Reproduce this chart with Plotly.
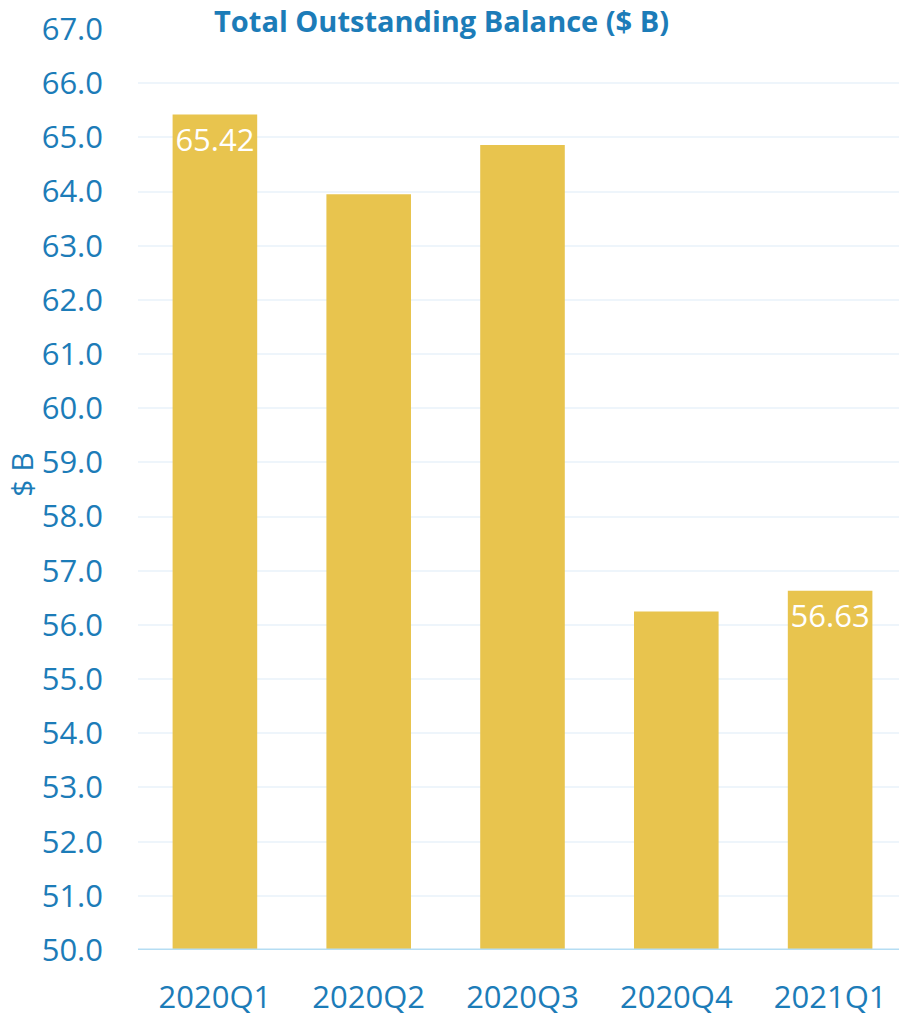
import plotly.graph_objects as go

categories = ["2020Q1", "2020Q2", "2020Q3", "2020Q4", "2021Q1"]
balances = [65.42, 63.95, 64.86, 56.25, 56.63]
labels = ["65.42", "", "", "", "56.63"]
y_ticks = [50 + i for i in range(18)]
y_tick_text = [f"{v:.1f}" for v in y_ticks]

blue = "#1c7cb8"
bar_color = "#e8c44e"

fig = go.Figure(go.Bar(
    x=categories, y=balances, text=labels,
    textposition="inside", insidetextanchor="end", textangle=0,
    constraintext="none",
    textfont=dict(color="white", size=31, family="Open Sans"),
    marker=dict(color=bar_color, line=dict(width=0)),
    cliponaxis=False,
))

fig.update_layout(
    width=907, height=1016,
    margin=dict(l=130, r=8, t=21, b=74, autoexpand=False),
    paper_bgcolor="white", plot_bgcolor="white",
    bargap=0.45,
    showlegend=False,
    font=dict(family="Open Sans", color=blue),
    title=dict(text="<b>Total Outstanding Balance ($ B)</b>",
               x=0.478, xanchor="center", y=0.986, yanchor="middle",
               yref="container",
               font=dict(size=29, color=blue, family="Open Sans")),
    xaxis=dict(tickfont=dict(size=31, color=blue), showgrid=False,
               showline=False, ticks="", ticklabelstandoff=26, automargin=False),
    yaxis=dict(range=[50, 67], tickvals=y_ticks, ticktext=y_tick_text,
               tickfont=dict(size=31, color=blue),
               showgrid=True, gridcolor="#eef5fb", gridwidth=2,
               zeroline=False, showline=False, ticks="",
               ticklabelstandoff=34, ticklabeloverflow="allow", automargin=False),
    annotations=[dict(text="$ B", xref="paper", yref="paper", x=-0.151, y=0.516,
                      xanchor="center", yanchor="middle", textangle=-90,
                      showarrow=False, font=dict(size=30, color=blue))],
    shapes=[dict(type="line", xref="paper", yref="y", x0=0, x1=1, y0=50, y1=50,
                 line=dict(color="#b5ddf3", width=3))],
)

fig.write_html("out.html")
